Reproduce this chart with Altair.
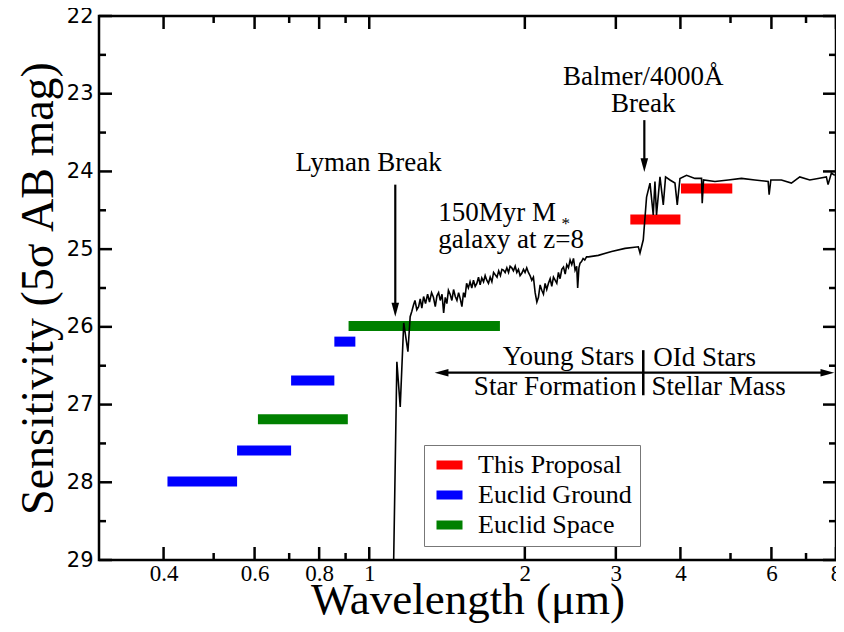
import altair as alt
import pandas as pd

# ---------------- data ----------------
# galaxy spectrum: main outline points
spec_wl = [1.115, 1.131, 1.148, 1.166, 1.188, 1.200, 1.218, 1.246, 1.274, 1.320,
           1.342, 1.362, 1.393, 1.423, 1.467, 1.511, 1.543, 1.603, 1.651, 1.701,
           1.753, 1.818, 1.887, 1.973, 2.017, 2.063, 2.110, 2.157, 2.222, 2.289,
           2.376, 2.447, 2.502, 2.531, 2.558, 2.655, 2.775, 2.944, 3.126, 3.316,
           3.341, 3.390, 3.440, 3.493, 3.544, 3.571, 3.596, 3.652, 3.706, 3.744,
           3.818, 3.904, 3.944, 3.992, 4.111, 4.267, 4.395, 4.408, 4.434, 4.665,
           4.949, 5.251, 5.574, 5.913, 5.939, 5.984, 6.273, 6.559, 6.808, 7.117,
           7.386, 7.664, 7.722, 7.837, 7.957]
spec_mag = [29.0, 26.45, 27.03, 25.95, 26.32, 25.87, 25.72, 25.74, 25.61, 25.56,
            25.74, 25.56, 25.82, 25.53, 25.61, 25.74, 25.44, 25.48, 25.37, 25.44,
            25.33, 25.27, 25.24, 25.31, 25.24, 25.40, 25.68, 25.53, 25.44, 25.40,
            25.23, 25.14, 25.27, 25.50, 25.18, 25.10, 25.08, 25.03, 24.99, 24.97,
            25.05, 24.88, 24.33, 24.15, 24.56, 24.13, 24.56, 24.07, 24.43, 24.07,
            24.11, 24.15, 24.43, 24.09, 24.05, 24.09, 24.09, 24.41, 24.11, 24.13,
            24.11, 24.09, 24.11, 24.13, 24.30, 24.11, 24.11, 24.15, 24.07, 24.11,
            24.09, 24.07, 24.17, 24.02, 24.05]
# galaxy spectrum: small-scale jitter read between the outline points
detail_wl = [1.209, 1.226, 1.236, 1.255, 1.264, 1.285, 1.297, 1.308, 1.331, 1.352,
             1.372, 1.383, 1.403, 1.413, 1.434, 1.445, 1.456, 1.478, 1.489, 1.500,
             1.522, 1.532, 1.555, 1.567, 1.579, 1.591, 1.615, 1.627, 1.639, 1.664,
             1.676, 1.688, 1.714, 1.727, 1.740, 1.767, 1.780, 1.794, 1.806, 1.832,
             1.846, 1.860, 1.873, 1.901, 1.916, 1.930, 1.944, 1.958, 1.988, 2.002,
             2.032, 2.047, 2.078, 2.094, 2.125, 2.141, 2.173, 2.189, 2.205, 2.239,
             2.255, 2.272, 2.306, 2.323, 2.340, 2.358, 2.394, 2.411, 2.429, 2.465,
             2.484, 2.520, 2.545, 2.575, 2.593, 2.612, 2.633]
detail_mag = [25.80, 25.66, 25.78, 25.64, 25.76, 25.70, 25.58, 25.68, 25.62, 25.60,
              25.66, 25.58, 25.62, 25.70, 25.58, 25.66, 25.52, 25.66, 25.56, 25.64,
              25.56, 25.62, 25.50, 25.42, 25.50, 25.40, 25.44, 25.36, 25.46, 25.42,
              25.34, 25.40, 25.36, 25.42, 25.30, 25.36, 25.28, 25.34, 25.26, 25.30,
              25.24, 25.30, 25.22, 25.28, 25.22, 25.30, 25.26, 25.34, 25.26, 25.30,
              25.30, 25.34, 25.36, 25.56, 25.62, 25.46, 25.58, 25.44, 25.52, 25.38,
              25.48, 25.36, 25.44, 25.30, 25.38, 25.26, 25.32, 25.20, 25.24, 25.20,
              25.12, 25.22, 25.24, 25.16, 25.12, 25.14, 25.10]

bar_lo = [3.20, 4.01, 0.407, 0.555, 0.706, 0.856, 0.609, 0.912]
bar_hi = [4.00, 5.04, 0.555, 0.706, 0.856, 0.940, 0.909, 1.79]
bar_mag = [24.62, 24.22, 27.99, 27.59, 26.69, 26.19, 27.19, 25.99]
bar_survey = ["This Proposal", "This Proposal", "Euclid Ground", "Euclid Ground",
              "Euclid Ground", "Euclid Ground", "Euclid Space", "Euclid Space"]
survey_names = ["This Proposal", "Euclid Ground", "Euclid Space"]
survey_colors = ["#ff0000", "#0000ff", "#008000"]

x_major = [0.4, 0.6, 0.8, 1, 2, 3, 4, 6, 8]
x_minor = [0.5, 0.7, 0.9, 5, 7]
y_major = [22, 23, 24, 25, 26, 27, 28, 29]
y_minor = [22.5, 23.5, 24.5, 25.5, 26.5, 27.5, 28.5]

# annotations
center_txt = ["Lyman Break", "Balmer/4000Å", "Break"]
center_x = [0.997, 3.39, 3.39]
center_y = [23.89, 22.785, 23.13]
left_txt = ["150Myr M", "galaxy at z=8", "OId Stars", "Stellar Mass"]
left_x = [1.36, 1.36, 3.544, 3.517]
left_y = [24.535, 24.88, 26.40, 26.78]
right_txt = ["Young Stars", "Star Formation"]
right_x = [3.257, 3.291]
right_y = [26.39, 26.77]
sub_txt = ["*"]
sub_x = [2.40]
sub_y = [24.68]

arrow_v_x = [1.123, 3.406]
arrow_v_top = [24.17, 23.34]
arrow_v_bot = [25.78, 23.92]
arrow_h_left = [1.38]
arrow_h_right = [7.70]
arrow_h_y = [26.59]
divider_x = [3.39]
divider_top = [26.30]
divider_bot = [26.88]

# ---------------- chart ----------------
W, H = 737, 544
SERIF = "Liberation Serif"
xs = alt.Scale(type="log", domain=[0.3, 8], nice=False)
ys = alt.Scale(domain=[22, 29], reverse=True, nice=False, zero=False)

x_axis = alt.Axis(values=x_major, format="~g", ticks=False, domain=False, grid=False,
                  labelFont=SERIF, labelFontSize=23, labelColor="black", labelPadding=2,
                  labelFlush=False, labelOverlap=False,
                  title="Wavelength (μm)", titleFont=SERIF, titleFontSize=45,
                  titleFontWeight="normal", titleColor="black", titlePadding=-8)
y_axis = alt.Axis(values=y_major, format="d", ticks=False, domain=False, grid=False,
                  labelFont="DejaVu Sans", labelFontSize=21, labelColor="black",
                  labelPadding=6, labelOverlap=False,
                  title="Sensitivity (5σ AB mag)", titleFont=SERIF, titleFontSize=46,
                  titleFontWeight="normal", titleColor="black", titlePadding=4)


def X(field):
    return alt.X(field, scale=xs, axis=x_axis)


def Y(field):
    return alt.Y(field, scale=ys, axis=y_axis)


bars_df = pd.DataFrame({"lo": bar_lo, "hi": bar_hi, "mag": bar_mag, "survey": bar_survey})
bars = alt.Chart(bars_df).mark_rule(strokeWidth=10).encode(
    x=X("lo:Q"),
    x2="hi:Q",
    y=Y("mag:Q"),
    color=alt.Color("survey:N",
                    scale=alt.Scale(domain=survey_names, range=survey_colors),
                    legend=alt.Legend(orient="none", legendX=325, legendY=429, title=None,
                                      symbolType="stroke", symbolStrokeWidth=9,
                                      symbolSize=676, labelFont=SERIF, labelFontSize=26,
                                      labelColor="black", labelLimit=400,
                                      strokeColor="#777777", fillColor="white",
                                      padding=8, clipHeight=24, rowPadding=4,
                                      labelOffset=11)),
)

spec_df = pd.DataFrame({"wl": spec_wl + detail_wl, "mag": spec_mag + detail_mag})
spectrum = alt.Chart(spec_df).mark_line(color="black", strokeWidth=1.6, clip=True).encode(
    x=X("wl:Q"),
    y=Y("mag:Q"),
)


def text_layer(txt, xv, yv, align, size):
    df = pd.DataFrame({"t": txt, "x": xv, "y": yv})
    return alt.Chart(df).mark_text(align=align, baseline="middle", font=SERIF,
                                   fontSize=size, color="black").encode(
        x=X("x:Q"), y=Y("y:Q"), text="t:N",
    )


texts = [
    text_layer(center_txt, center_x, center_y, "center", 27),
    text_layer(left_txt, left_x, left_y, "left", 27),
    text_layer(right_txt, right_x, right_y, "right", 27),
    text_layer(sub_txt, sub_x, sub_y, "center", 17),
]

varr_df = pd.DataFrame({"x": arrow_v_x, "top": arrow_v_top, "bot": arrow_v_bot})
varr = alt.Chart(varr_df).mark_rule(color="black", strokeWidth=2.2).encode(
    x=X("x:Q"), y=Y("top:Q"), y2="bot:Q")
vhead = alt.Chart(varr_df).mark_point(shape="M-0.55,-1L0.55,-1L0,1Z", filled=True,
                                      color="black", size=190, opacity=1).encode(
    x=X("x:Q"), y=Y("bot:Q"))

harr_df = pd.DataFrame({"l": arrow_h_left, "r": arrow_h_right, "y": arrow_h_y})
harr = alt.Chart(harr_df).mark_rule(color="black", strokeWidth=2.2).encode(
    x=X("l:Q"), x2="r:Q", y=Y("y:Q"))
hhead_l = alt.Chart(harr_df).mark_point(shape="M1,-0.55L1,0.55L-1,0Z", filled=True,
                                        color="black", size=190, opacity=1).encode(
    x=X("l:Q"), y=Y("y:Q"))
hhead_r = alt.Chart(harr_df).mark_point(shape="M-1,-0.55L-1,0.55L1,0Z", filled=True,
                                        color="black", size=190, opacity=1).encode(
    x=X("r:Q"), y=Y("y:Q"))

div_df = pd.DataFrame({"x": divider_x, "top": divider_top, "bot": divider_bot})
divider = alt.Chart(div_df).mark_rule(color="black", strokeWidth=2.5).encode(
    x=X("x:Q"), y=Y("top:Q"), y2="bot:Q")


def xticks(vals, length, top):
    df = pd.DataFrame({"v": vals})
    y0, y1 = (0, length) if top else (H, H - length)
    return alt.Chart(df).mark_rule(color="black", strokeWidth=2.5).encode(
        x=X("v:Q"), y=alt.value(y0), y2=alt.value(y1))


def yticks(vals, length, right):
    df = pd.DataFrame({"v": vals})
    x0, x1 = (W, W - length) if right else (0, length)
    return alt.Chart(df).mark_rule(color="black", strokeWidth=2.5).encode(
        y=Y("v:Q"), x=alt.value(x0), x2=alt.value(x1))


ticks = [xticks(x_major, 13, False), xticks(x_minor, 7, False),
         xticks(x_major, 13, True), xticks(x_minor, 7, True),
         yticks(y_major, 13, False), yticks(y_minor, 7, False),
         yticks(y_major, 13, True), yticks(y_minor, 7, True)]

chart = alt.layer(bars, spectrum, varr, vhead, harr, hhead_l, hhead_r, divider,
                  *texts, *ticks).properties(
    width=W, height=H,
    autosize=alt.AutoSizeParams(type="none"),
    padding={"left": 91, "top": 8, "right": 0, "bottom": 64},
).configure(
    background="white",
    view=alt.ViewConfig(stroke="black", strokeWidth=2.5),
)

chart.save("out.html", embed_options={"renderer": "svg", "actions": False})
